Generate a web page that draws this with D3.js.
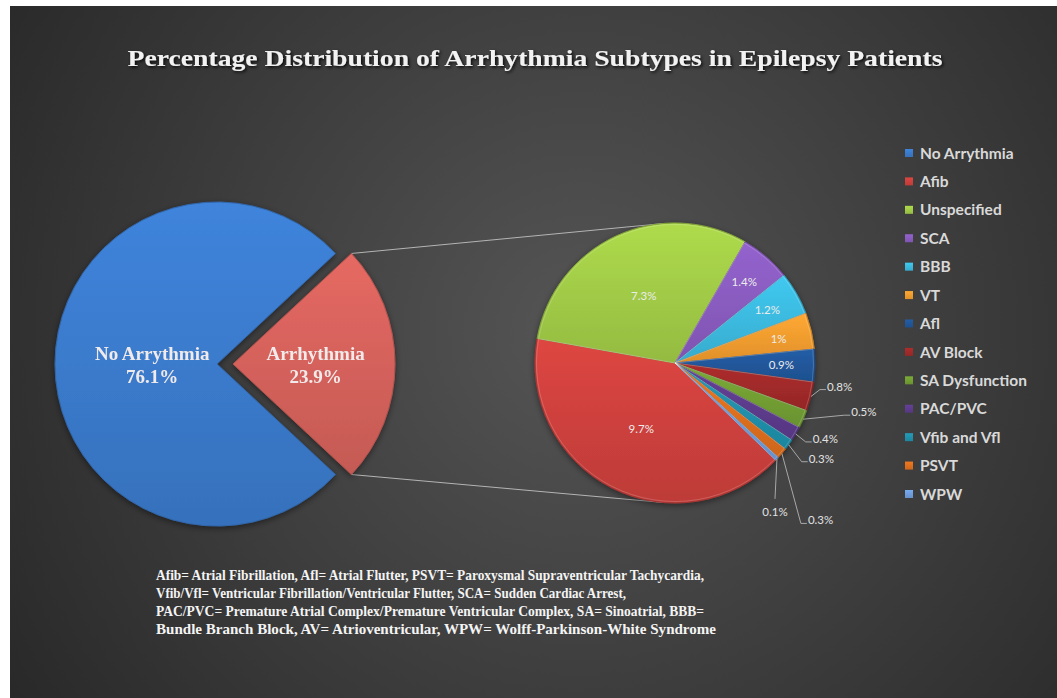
<!DOCTYPE html>
<html>
<head>
<meta charset="utf-8">
<script src="https://cdn.jsdelivr.net/npm/d3@7"></script>
<style>
  html, body { margin: 0; padding: 0; background: #fff; }
  svg { display: block; }
</style>
</head>
<body>
<div id="chart"></div>
<script>
// data
const mainLabels = ["No Arrythmia", "Arrhythmia"];
const mainValues = [76.1, 23.9];
const mainColors = ["#3b7bcd", "#d6625c"];

const subLabels = ["Afib", "Unspecified", "SCA", "BBB", "VT", "Afl", "AV Block",
  "SA Dysfunction", "PAC/PVC", "Vfib and Vfl", "PSVT", "WPW"];
const subValues = [9.7, 7.3, 1.4, 1.2, 1.0, 0.9, 0.8, 0.5, 0.4, 0.3, 0.3, 0.1];
const subColors = ["#cf413d", "#a2cc47", "#8a5cc0", "#3cbbe0", "#f59d2f", "#21579b",
  "#a22a2a", "#73a033", "#5e3c8e", "#2191ad", "#e0701d", "#6f9fe0"];

const legendLabels = ["No Arrythmia"].concat(subLabels);
const legendColors = ["#3b7bcd"].concat(subColors);

const title = "Percentage Distribution of Arrhythmia Subtypes in Epilepsy Patients";
const footnote = [
  "Afib= Atrial Fibrillation,  Afl= Atrial Flutter, PSVT= Paroxysmal Supraventricular Tachycardia,",
  "Vfib/Vfl= Ventricular Fibrillation/Ventricular Flutter, SCA= Sudden Cardiac Arrest,",
  "PAC/PVC= Premature Atrial Complex/Premature Ventricular Complex, SA= Sinoatrial, BBB=",
  "Bundle Branch Block, AV= Atrioventricular,  WPW= Wolff-Parkinson-White Syndrome"
];
// width each footnote line is set to (justified text box)
const footnoteWidths = [548, 470, 548, 560];

// label placement for the thin slices (offset from slice edge), Excel-like
const smallLabelOffsets = {
  "AV Block": [16, -10, "start"],
  "SA Dysfunction": [48, -7, "start"],
  "PAC/PVC": [17, 5, "start"],
  "Vfib and Vfl": [20, 14, "start"],
  "PSVT": [26, 67, "start"],
  "WPW": [-2, 53, "middle"]
};

const width = 1057, height = 698;

const svg = d3.select("#chart").append("svg")
  .attr("width", width)
  .attr("height", height);

const defs = svg.append("defs");

// background
const bg = defs.append("radialGradient").attr("id", "bg")
  .attr("gradientUnits", "userSpaceOnUse")
  .attr("cx", 580).attr("cy", 330).attr("r", 720);
bg.append("stop").attr("offset", "0%").attr("stop-color", "#555555");
bg.append("stop").attr("offset", "100%").attr("stop-color", "#262626");

svg.append("rect")
  .attr("x", 10).attr("y", 6)
  .attr("width", width - 10).attr("height", height - 6)
  .attr("fill", "url(#bg)");

const shadow = defs.append("filter").attr("id", "tshadow")
  .attr("x", "-10%").attr("y", "-50%").attr("width", "120%").attr("height", "200%");
shadow.append("feDropShadow").attr("dx", 1.5).attr("dy", 1.5)
  .attr("stdDeviation", 1.5).attr("flood-color", "#000").attr("flood-opacity", 0.85);

const pieShadow = defs.append("filter").attr("id", "pshadow")
  .attr("x", "-20%").attr("y", "-20%").attr("width", "140%").attr("height", "140%");
pieShadow.append("feDropShadow").attr("dx", 0).attr("dy", 2)
  .attr("stdDeviation", 3).attr("flood-color", "#000").attr("flood-opacity", 0.45);

function gradient(id, c) {
  const g = defs.append("linearGradient").attr("id", id)
    .attr("x1", 0).attr("y1", 0).attr("x2", 0).attr("y2", 1);
  g.append("stop").attr("offset", "0%").attr("stop-color", d3.color(c).brighter(0.2));
  g.append("stop").attr("offset", "100%").attr("stop-color", d3.color(c).darker(0.25));
  return `url(#${id})`;
}

// title
svg.append("text")
  .attr("x", 535).attr("y", 66)
  .attr("text-anchor", "middle")
  .attr("textLength", 815)
  .attr("lengthAdjust", "spacingAndGlyphs")
  .style("font-family", "'Liberation Serif', 'Times New Roman', serif")
  .style("font-weight", "bold")
  .style("font-size", "23px")
  .attr("fill", "#f2f2f2")
  .attr("filter", "url(#tshadow)")
  .text(title);

// main pie
const mainCx = 217, mainCy = 364, mainR = 162, explode = 16;
const arrShare = mainValues[1] / d3.sum(mainValues);
const mainStart = Math.PI / 2 + arrShare * Math.PI;

const mainPie = d3.pie().sort(null)
  .startAngle(mainStart).endAngle(mainStart + 2 * Math.PI)(mainValues);

const mainArc = d3.arc().innerRadius(0).outerRadius(mainR);

const offsetOf = (d, i) => {
  if (i !== 1) return [0, 0];
  const a = (d.startAngle + d.endAngle) / 2;
  return [explode * Math.sin(a), -explode * Math.cos(a)];
};

// second pie geometry
const subCx = 675, subCy = 363, subR = 140;
const subStart = 134 * Math.PI / 180;

// connectors from exploded slice corners to tangent points on the second pie
const arrSlice = mainPie[1];
const [ox, oy] = offsetOf(arrSlice, 1);
const corner = (a) => [mainCx + ox + mainR * Math.sin(a), mainCy + oy - mainR * Math.cos(a)];
function tangent(p, sign) {
  const dx = subCx - p[0], dy = subCy - p[1];
  const d = Math.hypot(dx, dy);
  const theta = Math.atan2(dy, dx) + sign * Math.asin(subR / d);
  const L = Math.sqrt(d * d - subR * subR);
  return [p[0] + L * Math.cos(theta), p[1] + L * Math.sin(theta)];
}
const topCorner = corner(arrSlice.startAngle);
const botCorner = corner(arrSlice.endAngle);
svg.append("g").selectAll("line")
  .data([[topCorner, tangent(topCorner, -1)], [botCorner, tangent(botCorner, 1)]])
  .join("line")
  .attr("x1", (d) => d[0][0]).attr("y1", (d) => d[0][1])
  .attr("x2", (d) => d[1][0]).attr("y2", (d) => d[1][1])
  .attr("stroke", "#b4b4b4").attr("stroke-width", 1);

const mainG = svg.append("g")
  .attr("transform", `translate(${mainCx},${mainCy})`)
  .attr("filter", "url(#pshadow)");

const mainSlices = mainG.selectAll("g.slice")
  .data(mainPie)
  .join("g")
  .attr("class", "slice")
  .attr("transform", (d, i) => `translate(${offsetOf(d, i)})`);

mainSlices.append("path")
  .attr("d", mainArc)
  .attr("fill", (d, i) => gradient("mg" + i, mainColors[i]))
  .attr("stroke", (d, i) => d3.color(mainColors[i]).darker(0.5))
  .attr("stroke-width", 1);

const mainLabelR = [0.4, 0.51];
mainSlices.append("text")
  .attr("transform", (d, i) => {
    const a = (d.startAngle + d.endAngle) / 2;
    const r = mainR * mainLabelR[i];
    return `translate(${r * Math.sin(a)},${-r * Math.cos(a)})`;
  })
  .attr("text-anchor", "middle")
  .style("font-family", "'Liberation Serif', 'Times New Roman', serif")
  .style("font-weight", "bold")
  .style("font-size", "19px")
  .attr("fill", "#f0eaea")
  .selectAll("tspan")
  .data((d, i) => [mainLabels[i], mainValues[i] + "%"])
  .join("tspan")
  .attr("x", 0)
  .attr("y", (t, j) => (j === 0 ? -4 : 19))
  .text((t) => t);

// second pie
const subPie = d3.pie().sort(null)
  .startAngle(subStart).endAngle(subStart + 2 * Math.PI)(subValues);
const subArc = d3.arc().innerRadius(0).outerRadius(subR);

const subG = svg.append("g")
  .attr("transform", `translate(${subCx},${subCy})`);

subG.append("g").attr("filter", "url(#pshadow)")
  .selectAll("path")
  .data(subPie)
  .join("path")
  .attr("d", subArc)
  .attr("fill", (d, i) => gradient("sg" + i, subColors[i]))
  .attr("stroke", (d, i) => d3.color(subColors[i]).darker(0.6))
  .attr("stroke-width", 1);

// bevel highlight
subG.append("g")
  .selectAll("path")
  .data(subPie)
  .join("path")
  .attr("d", d3.arc().innerRadius(0).outerRadius(subR - 1.5))
  .attr("fill", "none")
  .attr("stroke", "rgba(255,255,255,0.18)")
  .attr("stroke-width", 1);

const labelFont = "Lato, 'Open Sans', sans-serif";

// inside labels
subG.append("g")
  .selectAll("text")
  .data(subPie.filter((d, i) => !smallLabelOffsets[subLabels[i]]))
  .join("text")
  .attr("transform", (d) => {
    const a = (d.startAngle + d.endAngle) / 2;
    const r = subR * (d.value > 5 ? 0.53 : 0.76);
    return `translate(${r * Math.sin(a)},${-r * Math.cos(a)})`;
  })
  .attr("text-anchor", "middle")
  .attr("dy", "0.35em")
  .style("font-family", labelFont)
  .style("font-size", "11.5px")
  .attr("fill", "#ececec")
  .text((d) => d.value + "%");

// outside labels with leader lines
const outside = subPie
  .map((d, i) => ({ d, off: smallLabelOffsets[subLabels[i]] }))
  .filter((o) => o.off)
  .map((o) => {
    const a = (o.d.startAngle + o.d.endAngle) / 2;
    const e = [subR * Math.sin(a), -subR * Math.cos(a)];
    const t = [e[0] + o.off[0], e[1] + o.off[1]];
    const pts = o.off[2] === "middle"
      ? [e, [t[0], t[1] - 13]]
      : [e, [t[0] - 7, t[1] + 3], [t[0] - 1, t[1] + 3]];
    return { value: o.d.value, t, anchor: o.off[2], pts };
  });

subG.append("g")
  .selectAll("path")
  .data(outside)
  .join("path")
  .attr("d", (o) => d3.line()(o.pts))
  .attr("fill", "none")
  .attr("stroke", "#a8a8a8")
  .attr("stroke-width", 1);

subG.append("g")
  .selectAll("text")
  .data(outside)
  .join("text")
  .attr("x", (o) => o.t[0])
  .attr("y", (o) => o.t[1])
  .attr("dy", "0.35em")
  .attr("text-anchor", (o) => o.anchor)
  .style("font-family", labelFont)
  .style("font-size", "11.5px")
  .attr("fill", "#e2e2e2")
  .text((o) => o.value + "%");

// legend
const legendY = d3.scalePoint().domain(legendLabels).range([153, 494]);
const legend = svg.append("g")
  .selectAll("g")
  .data(legendLabels)
  .join("g")
  .attr("transform", (d) => `translate(905,${legendY(d)})`);

legend.append("rect")
  .attr("x", 0).attr("y", -4)
  .attr("width", 8).attr("height", 8)
  .attr("fill", (d, i) => gradient("lg" + i, legendColors[i]));

legend.append("text")
  .attr("x", 15)
  .attr("dy", "0.36em")
  .style("font-family", labelFont)
  .style("font-weight", "bold")
  .style("font-size", "15.5px")
  .attr("fill", "#d9d9d9")
  .text((d) => d);

// footnote
svg.append("g")
  .style("font-family", "'Liberation Serif', 'Times New Roman', serif")
  .style("font-weight", "bold")
  .style("font-size", "14px")
  .attr("fill", "#f4f4f4")
  .selectAll("text")
  .data(footnote)
  .join("text")
  .attr("x", 156)
  .attr("y", (d, i) => 580 + i * 18)
  .attr("textLength", (d, i) => footnoteWidths[i])
  .attr("lengthAdjust", "spacingAndGlyphs")
  .text((d) => d);
</script>
</body>
</html>
